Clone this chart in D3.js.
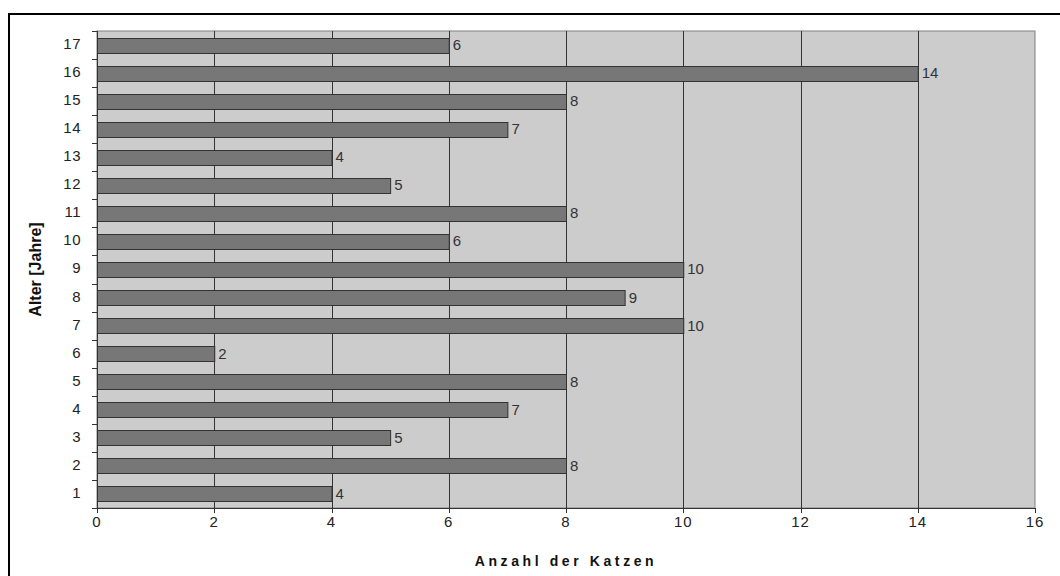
<!DOCTYPE html>
<html>
<head>
<meta charset="utf-8">
<script src="https://cdn.jsdelivr.net/npm/d3@7/dist/d3.min.js"></script>
<style>
  html, body { margin: 0; padding: 0; background: #fff; }
  svg { display: block; font-family: "Liberation Sans", Arial, sans-serif; }
</style>
</head>
<body>
<svg id="chart" width="1060" height="576"></svg>
<script>
// Age in years (category axis) and number of cats per age
const ages = [1, 2, 3, 4, 5, 6, 7, 8, 9, 10, 11, 12, 13, 14, 15, 16, 17];
const counts = [4, 8, 5, 7, 8, 2, 10, 9, 10, 6, 8, 5, 4, 7, 8, 14, 6];
const xTicks = [0, 2, 4, 6, 8, 10, 12, 14, 16];
const xTitle = "Anzahl der Katzen";
const yTitle = "Alter [Jahre]";

const svg = d3.select("#chart");
const W = 1060, H = 576;
const plot = { left: 97, right: 1035, top: 31, bottom: 508 };

// Outer frame
svg.append("rect")
  .attr("x", 9).attr("y", 14)
  .attr("width", W + 10).attr("height", H + 10)
  .attr("fill", "#fff").attr("stroke", "#000").attr("stroke-width", 2);

const x = d3.scaleLinear().domain([0, 16]).range([plot.left, plot.right]);
const y = d3.scaleBand().domain(ages.slice().reverse()).range([plot.top, plot.bottom]).paddingInner(0.465).paddingOuter(0.2325);

// Plot background
svg.append("rect")
  .attr("x", plot.left).attr("y", plot.top)
  .attr("width", plot.right - plot.left).attr("height", plot.bottom - plot.top)
  .attr("fill", "#cccccc").attr("stroke", "#808080").attr("stroke-width", 1);

// Vertical gridlines
svg.append("g").selectAll("line")
  .data(xTicks.filter(d => d > 0 && d < 16))
  .join("line")
  .attr("x1", d => Math.round(x(d)) + 0.5).attr("x2", d => Math.round(x(d)) + 0.5)
  .attr("y1", plot.top).attr("y2", plot.bottom)
  .attr("stroke", "#333").attr("stroke-width", 1);

// Bars
svg.append("g").selectAll("rect")
  .data(ages.map((a, i) => ({ age: a, value: counts[i] })))
  .join("rect")
  .attr("x", x(0) + 0.5)
  .attr("y", d => Math.round(y(d.age)) + 0.5)
  .attr("width", d => x(d.value) - x(0))
  .attr("height", Math.round(y.bandwidth()))
  .attr("fill", "#777777").attr("stroke", "#333").attr("stroke-width", 1);

// Value labels
svg.append("g").selectAll("text")
  .data(ages.map((a, i) => ({ age: a, value: counts[i] })))
  .join("text")
  .attr("x", d => x(d.value) + 4)
  .attr("y", d => y(d.age) + y.bandwidth() / 2 + 1)
  .attr("dominant-baseline", "middle")
  .attr("font-size", 15).attr("fill", "#333")
  .text(d => d.value);

// Y axis (category boundaries as ticks)
const yAxisG = svg.append("g");
yAxisG.append("line")
  .attr("x1", plot.left + 0.5).attr("x2", plot.left + 0.5)
  .attr("y1", plot.top).attr("y2", plot.bottom)
  .attr("stroke", "#333");
const step = (plot.bottom - plot.top) / ages.length;
yAxisG.selectAll("line.tick")
  .data(d3.range(ages.length + 1))
  .join("line").attr("class", "tick")
  .attr("x1", plot.left - 5).attr("x2", plot.left)
  .attr("y1", i => Math.round(plot.top + i * step) + 0.5)
  .attr("y2", i => Math.round(plot.top + i * step) + 0.5)
  .attr("stroke", "#333");
yAxisG.selectAll("text")
  .data(ages)
  .join("text")
  .attr("x", 81)
  .attr("y", d => y(d) + y.bandwidth() / 2)
  .attr("text-anchor", "end").attr("dominant-baseline", "middle")
  .attr("font-size", 15).attr("letter-spacing", 0.5).attr("fill", "#222")
  .text(d => d);

// X axis
const xAxisG = svg.append("g");
xAxisG.append("line")
  .attr("x1", plot.left).attr("x2", plot.right)
  .attr("y1", plot.bottom + 0.5).attr("y2", plot.bottom + 0.5)
  .attr("stroke", "#333");
xAxisG.selectAll("line.tick")
  .data(xTicks)
  .join("line").attr("class", "tick")
  .attr("x1", d => Math.round(x(d)) + 0.5).attr("x2", d => Math.round(x(d)) + 0.5)
  .attr("y1", plot.bottom).attr("y2", plot.bottom + 5)
  .attr("stroke", "#333");
xAxisG.selectAll("text")
  .data(xTicks)
  .join("text")
  .attr("x", d => x(d))
  .attr("y", 527)
  .attr("text-anchor", "middle")
  .attr("font-size", 15).attr("letter-spacing", 1).attr("fill", "#222")
  .text(d => d);

// Axis titles
svg.append("text")
  .attr("x", (plot.left + plot.right) / 2).attr("y", 566)
  .attr("text-anchor", "middle")
  .attr("font-size", 14).attr("font-weight", "bold")
  .attr("letter-spacing", 3.6).attr("fill", "#111")
  .text(xTitle);

svg.append("text")
  .attr("transform", `translate(41, ${(plot.top + plot.bottom) / 2}) rotate(-90)`)
  .attr("text-anchor", "middle")
  .attr("font-size", 16).attr("font-weight", "bold").attr("fill", "#111")
  .text(yTitle);
</script>
</body>
</html>
